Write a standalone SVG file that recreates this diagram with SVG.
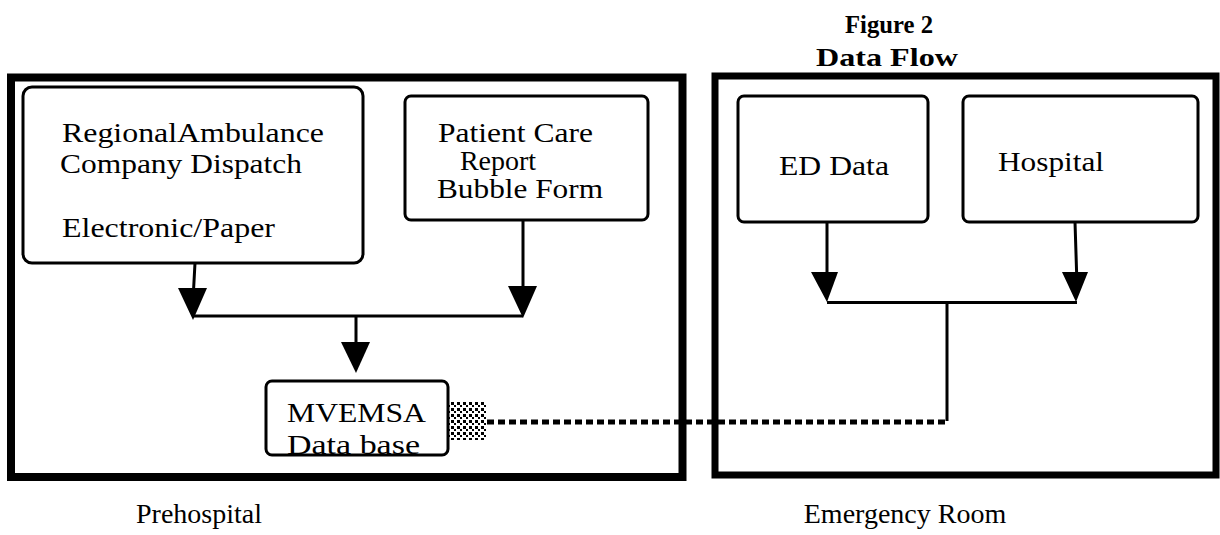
<svg xmlns="http://www.w3.org/2000/svg" width="1220" height="535" viewBox="0 0 1220 535">
<style>
.frame{fill:none;stroke:#000;stroke-width:8}
.box{fill:#fff;stroke:#000;stroke-width:3}
.t{font-family:"Liberation Serif","Times New Roman",serif;font-size:28px;fill:#000}
.title{font-family:"Liberation Serif","Times New Roman",serif;font-size:26px;font-weight:bold;fill:#000}
.ln{fill:none;stroke:#000;stroke-width:3}
.dot{fill:none;stroke:#000;stroke-width:5;stroke-dasharray:7 4}
.ah{fill:#000}
</style>
<defs>
<pattern id="chk" x="445" y="402" width="6" height="6" patternUnits="userSpaceOnUse">
<rect x="0" y="0" width="3" height="3" fill="#000"/>
<rect x="3" y="3" width="2" height="2" fill="#000"/>
</pattern>
</defs>
<g id="title">
<text class="title" x="845" y="33" textLength="88" lengthAdjust="spacingAndGlyphs">Figure 2</text>
<text class="title" x="816" y="66" textLength="142" lengthAdjust="spacingAndGlyphs">Data Flow</text>
</g>
<g id="prehospital-frame">
<rect class="frame" x="11" y="77.5" width="671.5" height="399.5"/>
<text class="t" x="199" y="523" text-anchor="middle">Prehospital</text>
</g>
<g id="er-frame">
<rect class="frame" x="715" y="76" width="501" height="399" style="stroke-width:7"/>
<text class="t" x="905" y="523" text-anchor="middle">Emergency Room</text>
</g>
<g id="connectors">
<path class="ln" d="M195,263 L193,300 M523,220 L523,300 M193,316 L523,316 M356,316 L356,350"/>
<polygon class="ah" points="178,288 207,288 193,320"/>
<polygon class="ah" points="508,286 537,286 523,318"/>
<polygon class="ah" points="341,342 370,342 356,373"/>
<path class="ln" d="M827,222 L827,285 M1075,222 L1077,285 M827,302.5 L1077,302.5 M947,302.5 L947,421"/>
<polygon class="ah" points="811,272 838,272 827,302"/>
<polygon class="ah" points="1062,272 1088,272 1076,302"/>
<path class="dot" d="M487,422 L947,422"/>
<rect x="445" y="402" width="42" height="38" fill="url(#chk)"/>
</g>
<g id="regional">
<rect class="box" x="23" y="87" width="340" height="176" rx="9"/>
<text class="t" x="62" y="142" textLength="262" lengthAdjust="spacingAndGlyphs">RegionalAmbulance</text>
<text class="t" x="60" y="173" textLength="242" lengthAdjust="spacingAndGlyphs">Company Dispatch</text>
<text class="t" x="62" y="237" textLength="213" lengthAdjust="spacingAndGlyphs">Electronic/Paper</text>
</g>
<g id="patient-care">
<rect class="box" x="405" y="96" width="243" height="124" rx="6"/>
<text class="t" x="438" y="142" textLength="155" lengthAdjust="spacingAndGlyphs">Patient Care</text>
<text class="t" x="498" y="170" text-anchor="middle">Report</text>
<text class="t" x="437" y="198" textLength="166" lengthAdjust="spacingAndGlyphs">Bubble Form</text>
</g>
<g id="mvemsa">
<rect class="box" x="266" y="381" width="182" height="74" rx="6"/>
<text class="t" x="287" y="422" textLength="139" lengthAdjust="spacingAndGlyphs">MVEMSA</text>
<text class="t" x="287" y="454" textLength="133" lengthAdjust="spacingAndGlyphs">Data base</text>
</g>
<g id="ed-data">
<rect class="box" x="738" y="96" width="190" height="126" rx="6"/>
<text class="t" x="779" y="175" textLength="110" lengthAdjust="spacingAndGlyphs">ED Data</text>
</g>
<g id="hospital">
<rect class="box" x="963" y="96" width="235" height="126" rx="6"/>
<text class="t" x="998" y="171" textLength="106" lengthAdjust="spacingAndGlyphs">Hospital</text>
</g>
</svg>
